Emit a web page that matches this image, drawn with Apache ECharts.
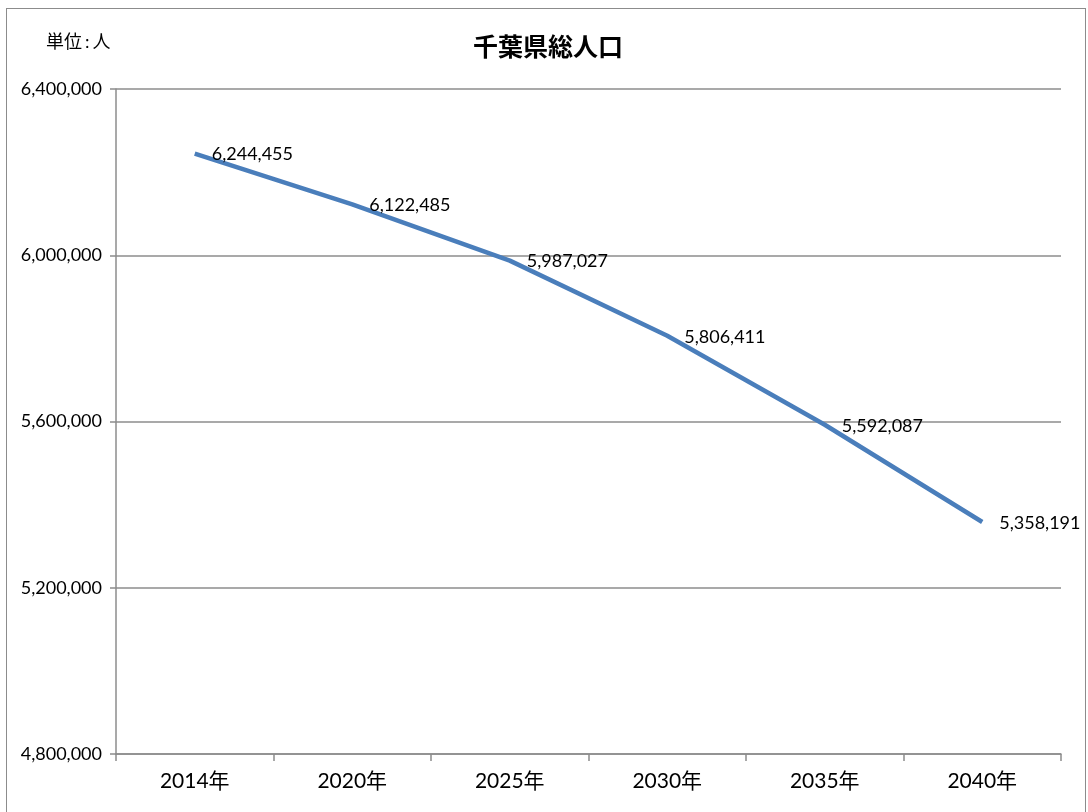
<!DOCTYPE html>
<html><head><meta charset="utf-8">
<script src="https://cdn.jsdelivr.net/npm/echarts@6/dist/echarts.min.js"></script>
<style>html,body{margin:0;padding:0;background:#fff}#c{width:1088px;height:812px}
#frame{position:absolute;left:6px;top:8px;width:1080px;height:820px;border:1px solid #8c8c8c;box-sizing:border-box;pointer-events:none}</style>
</head><body><div id="c"></div><div id="frame"></div>
<script>
const categories = ['2014年','2020年','2025年','2030年','2035年','2040年'];
const population = [6244455, 6122485, 5987027, 5806411, 5592087, 5358191];
const yTicks = [4800000, 5200000, 5600000, 6000000, 6400000];
const FONT = 'Lato, "Noto Sans CJK JP", sans-serif';
const fmt = v => v.toLocaleString('en-US');
const chart = echarts.init(document.getElementById('c'));
chart.setOption({
  animation: false,
  textStyle: {fontFamily: FONT},
  title: [
    {text: '千葉県総人口', left: 543, top: 30, textAlign: 'center',
     textStyle: {fontFamily: FONT, fontSize: 25, fontWeight: 'bold', color: '#000'}},
    {text: '単位{c|:}人', left: 41, top: 28,
     textStyle: {fontFamily: FONT, fontSize: 18, fontWeight: 'normal', color: '#000',
                 rich: {c: {fontFamily: FONT, fontSize: 18, color: '#000', padding: [0, 3, 0, 3]}}}}
  ],
  grid: {left: 116, right: 27, top: 89, bottom: 58, containLabel: false},
  xAxis: {
    type: 'category', data: categories, boundaryGap: true,
    axisLine: {lineStyle: {color: '#8c8c8c', width: 1.5}},
    axisTick: {show: true, length: 7, inside: false, lineStyle: {color: '#8c8c8c', width: 1.5}},
    axisLabel: {fontFamily: FONT, fontSize: 21, color: '#000', margin: 17}
  },
  yAxis: {
    type: 'value', min: yTicks[0], max: yTicks[yTicks.length-1], interval: 400000,
    axisLine: {show: true, lineStyle: {color: '#8c8c8c', width: 1.5}},
    axisTick: {show: true, length: 6, lineStyle: {color: '#8c8c8c', width: 1.5}},
    splitLine: {show: true, lineStyle: {color: '#8c8c8c', width: 1.5}},
    axisLabel: {fontFamily: FONT, fontSize: 18, color: '#000', margin: 14, formatter: v => fmt(v)}
  },
  series: [{
    type: 'line', data: population, showSymbol: true, symbol: 'circle', symbolSize: 0,
    lineStyle: {color: '#4a7ebb', width: 4.5},
    itemStyle: {color: '#4a7ebb'},
    label: {show: true, position: 'right', distance: 17, fontFamily: FONT, fontSize: 18, color: '#000',
            offset: [0, 1], formatter: p => fmt(p.value)}
  }]
});
</script></body></html>
